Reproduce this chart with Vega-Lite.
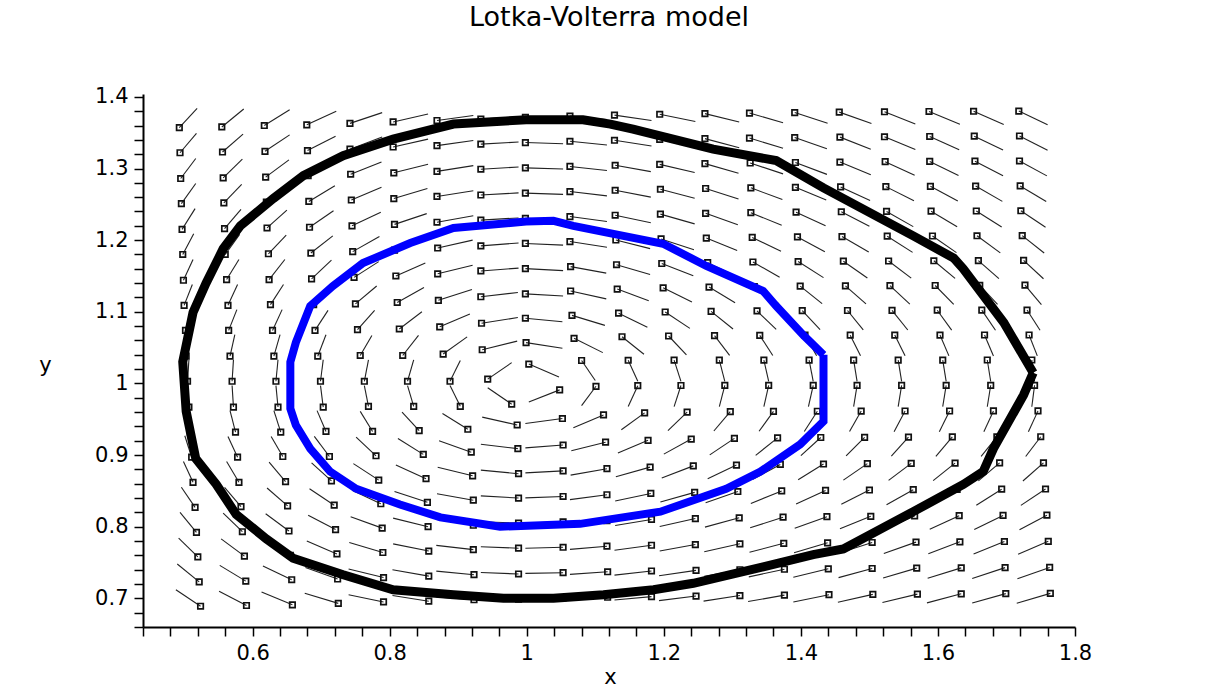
{
"$schema":"https://vega.github.io/schema/vega-lite/v6.json",
"autosize":{"type":"none"},
"width":932,"height":533,
"padding":{"left":143,"top":94,"right":135,"bottom":63},
"background":"white",
"view":{"stroke":null},
"title":{"text":"Lotka-Volterra model","font":"DejaVu Sans","fontSize":27,"fontWeight":"normal","color":"black","anchor":"middle","offset":54},
"config":{"axis":{"domainColor":"black","domainWidth":2,"tickColor":"black","tickWidth":1.5,"tickSize":9,"labelFont":"DejaVu Sans","labelFontSize":21,"labelColor":"black","labelPadding":6,"grid":false,"labelOverlap":false,"labelFlush":false,"titleFont":"DejaVu Sans","titleFontSize":21,"titleFontWeight":"normal","titleColor":"black"}},
"datasets":{
"field":[
{"x0":0.488,"y0":0.712,"x1":0.524,"y1":0.689},{"x0":0.490,"y0":0.748,"x1":0.522,"y1":0.723},{"x0":0.492,"y0":0.784,"x1":0.520,"y1":0.758},{"x0":0.494,"y0":0.820,"x1":0.518,"y1":0.792},{"x0":0.496,"y0":0.855,"x1":0.516,"y1":0.827},{"x0":0.499,"y0":0.891,"x1":0.513,"y1":0.862},{"x0":0.501,"y0":0.927,"x1":0.511,"y1":0.897},{"x0":0.503,"y0":0.962,"x1":0.509,"y1":0.932},{"x0":0.505,"y0":0.997,"x1":0.507,"y1":0.967},{"x0":0.507,"y0":1.033,"x1":0.505,"y1":1.003},{"x0":0.509,"y0":1.068,"x1":0.503,"y1":1.038},{"x0":0.510,"y0":1.103,"x1":0.502,"y1":1.074},{"x0":0.512,"y0":1.138,"x1":0.500,"y1":1.109},{"x0":0.513,"y0":1.173,"x1":0.499,"y1":1.144},{"x0":0.514,"y0":1.209,"x1":0.498,"y1":1.180},{"x0":0.516,"y0":1.244,"x1":0.497,"y1":1.215},{"x0":0.517,"y0":1.279,"x1":0.496,"y1":1.251},{"x0":0.517,"y0":1.314,"x1":0.495,"y1":1.286},{"x0":0.518,"y0":1.349,"x1":0.494,"y1":1.322},{"x0":0.519,"y0":1.384,"x1":0.493,"y1":1.357},
{"x0":0.551,"y0":0.710,"x1":0.591,"y1":0.690},{"x0":0.552,"y0":0.746,"x1":0.590,"y1":0.724},{"x0":0.554,"y0":0.783,"x1":0.588,"y1":0.759},{"x0":0.557,"y0":0.819,"x1":0.585,"y1":0.793},{"x0":0.559,"y0":0.855,"x1":0.583,"y1":0.828},{"x0":0.562,"y0":0.891,"x1":0.580,"y1":0.862},{"x0":0.564,"y0":0.926,"x1":0.578,"y1":0.897},{"x0":0.567,"y0":0.962,"x1":0.575,"y1":0.932},{"x0":0.570,"y0":0.997,"x1":0.572,"y1":0.967},{"x0":0.572,"y0":1.033,"x1":0.570,"y1":1.003},{"x0":0.574,"y0":1.068,"x1":0.567,"y1":1.038},{"x0":0.577,"y0":1.103,"x1":0.565,"y1":1.074},{"x0":0.578,"y0":1.138,"x1":0.564,"y1":1.109},{"x0":0.580,"y0":1.173,"x1":0.562,"y1":1.145},{"x0":0.581,"y0":1.208,"x1":0.560,"y1":1.180},{"x0":0.583,"y0":1.243,"x1":0.559,"y1":1.216},{"x0":0.584,"y0":1.278,"x1":0.558,"y1":1.252},{"x0":0.585,"y0":1.313,"x1":0.557,"y1":1.287},{"x0":0.586,"y0":1.348,"x1":0.556,"y1":1.323},{"x0":0.587,"y0":1.383,"x1":0.555,"y1":1.358},
{"x0":0.613,"y0":0.709,"x1":0.658,"y1":0.691},{"x0":0.615,"y0":0.745,"x1":0.657,"y1":0.726},{"x0":0.616,"y0":0.781,"x1":0.655,"y1":0.760},{"x0":0.619,"y0":0.818,"x1":0.653,"y1":0.794},{"x0":0.621,"y0":0.854,"x1":0.651,"y1":0.829},{"x0":0.624,"y0":0.890,"x1":0.648,"y1":0.863},{"x0":0.627,"y0":0.926,"x1":0.644,"y1":0.898},{"x0":0.631,"y0":0.962,"x1":0.641,"y1":0.932},{"x0":0.634,"y0":0.997,"x1":0.637,"y1":0.967},{"x0":0.637,"y0":1.033,"x1":0.634,"y1":1.003},{"x0":0.640,"y0":1.068,"x1":0.631,"y1":1.038},{"x0":0.643,"y0":1.103,"x1":0.629,"y1":1.074},{"x0":0.645,"y0":1.138,"x1":0.626,"y1":1.110},{"x0":0.647,"y0":1.173,"x1":0.624,"y1":1.145},{"x0":0.649,"y0":1.207,"x1":0.623,"y1":1.181},{"x0":0.650,"y0":1.242,"x1":0.621,"y1":1.217},{"x0":0.652,"y0":1.277,"x1":0.620,"y1":1.253},{"x0":0.653,"y0":1.312,"x1":0.619,"y1":1.288},{"x0":0.654,"y0":1.347,"x1":0.618,"y1":1.324},{"x0":0.654,"y0":1.382,"x1":0.617,"y1":1.360},
{"x0":0.676,"y0":0.707,"x1":0.725,"y1":0.693},{"x0":0.677,"y0":0.743,"x1":0.724,"y1":0.727},{"x0":0.679,"y0":0.780,"x1":0.723,"y1":0.762},{"x0":0.681,"y0":0.816,"x1":0.721,"y1":0.796},{"x0":0.683,"y0":0.853,"x1":0.719,"y1":0.830},{"x0":0.686,"y0":0.889,"x1":0.715,"y1":0.864},{"x0":0.690,"y0":0.926,"x1":0.712,"y1":0.898},{"x0":0.694,"y0":0.962,"x1":0.707,"y1":0.933},{"x0":0.699,"y0":0.997,"x1":0.703,"y1":0.967},{"x0":0.703,"y0":1.033,"x1":0.699,"y1":1.003},{"x0":0.707,"y0":1.068,"x1":0.695,"y1":1.038},{"x0":0.710,"y0":1.102,"x1":0.691,"y1":1.074},{"x0":0.713,"y0":1.137,"x1":0.689,"y1":1.110},{"x0":0.715,"y0":1.172,"x1":0.686,"y1":1.146},{"x0":0.717,"y0":1.206,"x1":0.685,"y1":1.182},{"x0":0.718,"y0":1.241,"x1":0.683,"y1":1.218},{"x0":0.720,"y0":1.276,"x1":0.682,"y1":1.254},{"x0":0.721,"y0":1.310,"x1":0.681,"y1":1.290},{"x0":0.721,"y0":1.345,"x1":0.680,"y1":1.325},{"x0":0.722,"y0":1.380,"x1":0.679,"y1":1.361},
{"x0":0.740,"y0":0.705,"x1":0.791,"y1":0.695},{"x0":0.740,"y0":0.741,"x1":0.791,"y1":0.729},{"x0":0.741,"y0":0.778,"x1":0.790,"y1":0.764},{"x0":0.743,"y0":0.814,"x1":0.789,"y1":0.798},{"x0":0.745,"y0":0.851,"x1":0.787,"y1":0.832},{"x0":0.747,"y0":0.888,"x1":0.784,"y1":0.865},{"x0":0.751,"y0":0.925,"x1":0.780,"y1":0.899},{"x0":0.757,"y0":0.961,"x1":0.775,"y1":0.933},{"x0":0.763,"y0":0.997,"x1":0.769,"y1":0.968},{"x0":0.769,"y0":1.033,"x1":0.763,"y1":1.003},{"x0":0.774,"y0":1.067,"x1":0.757,"y1":1.039},{"x0":0.778,"y0":1.102,"x1":0.753,"y1":1.075},{"x0":0.781,"y0":1.136,"x1":0.750,"y1":1.111},{"x0":0.784,"y0":1.170,"x1":0.748,"y1":1.148},{"x0":0.785,"y0":1.205,"x1":0.746,"y1":1.184},{"x0":0.787,"y0":1.239,"x1":0.745,"y1":1.220},{"x0":0.788,"y0":1.274,"x1":0.744,"y1":1.256},{"x0":0.788,"y0":1.309,"x1":0.743,"y1":1.292},{"x0":0.789,"y0":1.344,"x1":0.742,"y1":1.327},{"x0":0.789,"y0":1.378,"x1":0.742,"y1":1.363},
{"x0":0.804,"y0":0.704,"x1":0.857,"y1":0.696},{"x0":0.804,"y0":0.740,"x1":0.857,"y1":0.731},{"x0":0.805,"y0":0.776,"x1":0.857,"y1":0.766},{"x0":0.805,"y0":0.812,"x1":0.856,"y1":0.800},{"x0":0.807,"y0":0.849,"x1":0.855,"y1":0.834},{"x0":0.809,"y0":0.886,"x1":0.853,"y1":0.867},{"x0":0.812,"y0":0.923,"x1":0.849,"y1":0.901},{"x0":0.818,"y0":0.960,"x1":0.843,"y1":0.934},{"x0":0.826,"y0":0.997,"x1":0.835,"y1":0.968},{"x0":0.835,"y0":1.033,"x1":0.826,"y1":1.003},{"x0":0.842,"y0":1.067,"x1":0.819,"y1":1.039},{"x0":0.847,"y0":1.100,"x1":0.814,"y1":1.076},{"x0":0.850,"y0":1.134,"x1":0.811,"y1":1.113},{"x0":0.852,"y0":1.168,"x1":0.809,"y1":1.150},{"x0":0.854,"y0":1.202,"x1":0.807,"y1":1.186},{"x0":0.854,"y0":1.237,"x1":0.807,"y1":1.222},{"x0":0.855,"y0":1.272,"x1":0.806,"y1":1.258},{"x0":0.856,"y0":1.306,"x1":0.806,"y1":1.294},{"x0":0.856,"y0":1.341,"x1":0.805,"y1":1.330},{"x0":0.856,"y0":1.376,"x1":0.805,"y1":1.365},
{"x0":0.868,"y0":0.702,"x1":0.923,"y1":0.698},{"x0":0.868,"y0":0.738,"x1":0.923,"y1":0.733},{"x0":0.868,"y0":0.774,"x1":0.922,"y1":0.768},{"x0":0.869,"y0":0.810,"x1":0.922,"y1":0.802},{"x0":0.869,"y0":0.846,"x1":0.922,"y1":0.837},{"x0":0.870,"y0":0.883,"x1":0.921,"y1":0.871},{"x0":0.872,"y0":0.920,"x1":0.919,"y1":0.904},{"x0":0.877,"y0":0.958,"x1":0.914,"y1":0.936},{"x0":0.888,"y0":0.997,"x1":0.903,"y1":0.968},{"x0":0.903,"y0":1.032,"x1":0.888,"y1":1.003},{"x0":0.913,"y0":1.065,"x1":0.878,"y1":1.041},{"x0":0.917,"y0":1.097,"x1":0.873,"y1":1.079},{"x0":0.920,"y0":1.131,"x1":0.871,"y1":1.116},{"x0":0.921,"y0":1.165,"x1":0.870,"y1":1.153},{"x0":0.921,"y0":1.200,"x1":0.870,"y1":1.189},{"x0":0.922,"y0":1.234,"x1":0.869,"y1":1.225},{"x0":0.922,"y0":1.269,"x1":0.869,"y1":1.261},{"x0":0.922,"y0":1.304,"x1":0.869,"y1":1.296},{"x0":0.922,"y0":1.339,"x1":0.869,"y1":1.332},{"x0":0.922,"y0":1.374,"x1":0.869,"y1":1.367},
{"x0":0.933,"y0":0.701,"x1":0.988,"y1":0.699},{"x0":0.933,"y0":0.736,"x1":0.988,"y1":0.734},{"x0":0.933,"y0":0.772,"x1":0.988,"y1":0.770},{"x0":0.933,"y0":0.807,"x1":0.988,"y1":0.805},{"x0":0.933,"y0":0.843,"x1":0.988,"y1":0.840},{"x0":0.933,"y0":0.879,"x1":0.988,"y1":0.874},{"x0":0.933,"y0":0.915,"x1":0.987,"y1":0.909},{"x0":0.935,"y0":0.953,"x1":0.986,"y1":0.942},{"x0":0.943,"y0":0.994,"x1":0.978,"y1":0.971},{"x0":0.978,"y0":1.029,"x1":0.943,"y1":1.006},{"x0":0.986,"y0":1.059,"x1":0.935,"y1":1.047},{"x0":0.987,"y0":1.092,"x1":0.934,"y1":1.084},{"x0":0.987,"y0":1.127,"x1":0.933,"y1":1.121},{"x0":0.988,"y0":1.161,"x1":0.933,"y1":1.157},{"x0":0.988,"y0":1.196,"x1":0.933,"y1":1.192},{"x0":0.988,"y0":1.231,"x1":0.933,"y1":1.228},{"x0":0.988,"y0":1.266,"x1":0.933,"y1":1.263},{"x0":0.988,"y0":1.302,"x1":0.933,"y1":1.299},{"x0":0.988,"y0":1.337,"x1":0.933,"y1":1.334},{"x0":0.988,"y0":1.372,"x1":0.933,"y1":1.369},
{"x0":0.998,"y0":0.6995,"x1":1.053,"y1":0.7005},{"x0":0.998,"y0":0.7348,"x1":1.053,"y1":0.7358},{"x0":0.998,"y0":0.7699,"x1":1.053,"y1":0.7713},{"x0":0.998,"y0":0.8051,"x1":1.053,"y1":0.8067},{"x0":0.998,"y0":0.8402,"x1":1.053,"y1":0.8422},{"x0":0.998,"y0":0.8751,"x1":1.053,"y1":0.8779},{"x0":0.998,"y0":0.910,"x1":1.053,"y1":0.914},{"x0":0.998,"y0":0.944,"x1":1.052,"y1":0.951},{"x0":1.003,"y0":0.974,"x1":1.048,"y1":0.991},{"x0":1.047,"y0":1.009,"x1":1.003,"y1":1.027},{"x0":1.052,"y0":1.049,"x1":0.999,"y1":1.057},{"x0":1.052,"y0":1.086,"x1":0.998,"y1":1.091},{"x0":1.053,"y0":1.122,"x1":0.998,"y1":1.125},{"x0":1.053,"y0":1.1575,"x1":0.998,"y1":1.1603},{"x0":1.053,"y0":1.193,"x1":0.998,"y1":1.1954},{"x0":1.053,"y0":1.2285,"x1":0.998,"y1":1.2305},{"x0":1.053,"y0":1.2639,"x1":0.998,"y1":1.2657},{"x0":1.053,"y0":1.2993,"x1":0.998,"y1":1.3009},{"x0":1.053,"y0":1.3346,"x1":0.998,"y1":1.3362},{"x0":1.053,"y0":1.370,"x1":0.998,"y1":1.3714},
{"x0":1.063,"y0":0.6985,"x1":1.118,"y1":0.7015},{"x0":1.063,"y0":0.7335,"x1":1.118,"y1":0.7371},{"x0":1.063,"y0":0.7684,"x1":1.117,"y1":0.7728},{"x0":1.063,"y0":0.8032,"x1":1.117,"y1":0.8086},{"x0":1.063,"y0":0.8378,"x1":1.117,"y1":0.8446},{"x0":1.064,"y0":0.872,"x1":1.117,"y1":0.881},{"x0":1.065,"y0":0.906,"x1":1.115,"y1":0.918},{"x0":1.068,"y0":0.938,"x1":1.112,"y1":0.956},{"x0":1.080,"y0":0.969,"x1":1.101,"y1":0.996},{"x0":1.100,"y0":1.004,"x1":1.080,"y1":1.032},{"x0":1.111,"y0":1.043,"x1":1.069,"y1":1.063},{"x0":1.114,"y0":1.081,"x1":1.066,"y1":1.095},{"x0":1.116,"y0":1.118,"x1":1.064,"y1":1.129},{"x0":1.116,"y0":1.154,"x1":1.064,"y1":1.163},{"x0":1.117,"y0":1.190,"x1":1.063,"y1":1.198},{"x0":1.117,"y0":1.2261,"x1":1.063,"y1":1.2329},{"x0":1.117,"y0":1.2618,"x1":1.063,"y1":1.2678},{"x0":1.117,"y0":1.2973,"x1":1.063,"y1":1.3029},{"x0":1.117,"y0":1.3328,"x1":1.063,"y1":1.338},{"x0":1.117,"y0":1.3683,"x1":1.063,"y1":1.3731},
{"x0":1.128,"y0":0.6976,"x1":1.182,"y1":0.7024},{"x0":1.128,"y0":0.7324,"x1":1.182,"y1":0.7382},{"x0":1.128,"y0":0.7671,"x1":1.182,"y1":0.7741},{"x0":1.129,"y0":0.8017,"x1":1.182,"y1":0.8101},{"x0":1.129,"y0":0.836,"x1":1.181,"y1":0.8464},{"x0":1.130,"y0":0.8698,"x1":1.180,"y1":0.8832},{"x0":1.133,"y0":0.903,"x1":1.177,"y1":0.9206},{"x0":1.138,"y0":0.9353,"x1":1.172,"y1":0.9589},{"x0":1.148,"y0":0.9679,"x1":1.162,"y1":0.9969},{"x0":1.162,"y0":1.0031,"x1":1.148,"y1":1.0323},{"x0":1.171,"y0":1.0408,"x1":1.139,"y1":1.0652},{"x0":1.176,"y0":1.0785,"x1":1.134,"y1":1.0981},{"x0":1.178,"y0":1.1155,"x1":1.132,"y1":1.1317},{"x0":1.180,"y0":1.1521,"x1":1.131,"y1":1.1657},{"x0":1.180,"y0":1.1882,"x1":1.130,"y1":1.2002},{"x0":1.181,"y0":1.2242,"x1":1.129,"y1":1.2348},{"x0":1.181,"y0":1.260,"x1":1.129,"y1":1.2696},{"x0":1.181,"y0":1.2957,"x1":1.129,"y1":1.3045},{"x0":1.182,"y0":1.3314,"x1":1.128,"y1":1.3394},{"x0":1.182,"y0":1.3669,"x1":1.128,"y1":1.3745},
{"x0":1.193,"y0":0.6968,"x1":1.247,"y1":0.7032},{"x0":1.193,"y0":0.7315,"x1":1.247,"y1":0.7391},{"x0":1.194,"y0":0.7661,"x1":1.246,"y1":0.7751},{"x0":1.194,"y0":0.8004,"x1":1.246,"y1":0.8114},{"x0":1.195,"y0":0.8345,"x1":1.245,"y1":0.8479},{"x0":1.197,"y0":0.8681,"x1":1.243,"y1":0.8849},{"x0":1.200,"y0":0.9013,"x1":1.240,"y1":0.9223},{"x0":1.206,"y0":0.9342,"x1":1.234,"y1":0.960},{"x0":1.215,"y0":0.9677,"x1":1.225,"y1":0.9971},{"x0":1.225,"y0":1.0029,"x1":1.215,"y1":1.0325},{"x0":1.233,"y0":1.0398,"x1":1.207,"y1":1.0662},{"x0":1.238,"y0":1.0769,"x1":1.202,"y1":1.0997},{"x0":1.241,"y0":1.1138,"x1":1.199,"y1":1.1334},{"x0":1.243,"y0":1.1504,"x1":1.197,"y1":1.1674},{"x0":1.244,"y0":1.1867,"x1":1.196,"y1":1.2017},{"x0":1.245,"y0":1.2227,"x1":1.195,"y1":1.2363},{"x0":1.245,"y0":1.2586,"x1":1.195,"y1":1.271},{"x0":1.245,"y0":1.2944,"x1":1.194,"y1":1.3058},{"x0":1.246,"y0":1.3301,"x1":1.194,"y1":1.3407},{"x0":1.246,"y0":1.3657,"x1":1.194,"y1":1.3757},
{"x0":1.258,"y0":0.6961,"x1":1.311,"y1":0.7039},{"x0":1.259,"y0":0.7307,"x1":1.311,"y1":0.7399},{"x0":1.259,"y0":0.7651,"x1":1.311,"y1":0.7761},{"x0":1.260,"y0":0.7994,"x1":1.310,"y1":0.8124},{"x0":1.261,"y0":0.8333,"x1":1.308,"y1":0.8491},{"x0":1.264,"y0":0.867,"x1":1.306,"y1":0.886},{"x0":1.267,"y0":0.9003,"x1":1.303,"y1":0.9233},{"x0":1.273,"y0":0.9336,"x1":1.297,"y1":0.9606},{"x0":1.281,"y0":0.9676,"x1":1.289,"y1":0.9972},{"x0":1.289,"y0":1.0029,"x1":1.281,"y1":1.0325},{"x0":1.296,"y0":1.0392,"x1":1.274,"y1":1.0668},{"x0":1.301,"y0":1.076,"x1":1.269,"y1":1.1006},{"x0":1.304,"y0":1.1127,"x1":1.266,"y1":1.1345},{"x0":1.306,"y0":1.1492,"x1":1.264,"y1":1.1686},{"x0":1.307,"y0":1.1855,"x1":1.262,"y1":1.2029},{"x0":1.308,"y0":1.2216,"x1":1.261,"y1":1.2374},{"x0":1.309,"y0":1.2575,"x1":1.261,"y1":1.2721},{"x0":1.309,"y0":1.2934,"x1":1.260,"y1":1.3068},{"x0":1.310,"y0":1.3291,"x1":1.260,"y1":1.3417},{"x0":1.310,"y0":1.3648,"x1":1.260,"y1":1.3766},
{"x0":1.323,"y0":0.6955,"x1":1.376,"y1":0.7045},{"x0":1.324,"y0":0.730,"x1":1.376,"y1":0.7406},{"x0":1.325,"y0":0.7644,"x1":1.375,"y1":0.7768},{"x0":1.326,"y0":0.7985,"x1":1.374,"y1":0.8133},{"x0":1.327,"y0":0.8324,"x1":1.372,"y1":0.850},{"x0":1.330,"y0":0.8661,"x1":1.370,"y1":0.8869},{"x0":1.334,"y0":0.8996,"x1":1.366,"y1":0.924},{"x0":1.339,"y0":0.9332,"x1":1.360,"y1":0.961},{"x0":1.346,"y0":0.9675,"x1":1.353,"y1":0.9973},{"x0":1.353,"y0":1.0028,"x1":1.346,"y1":1.0326},{"x0":1.359,"y0":1.0389,"x1":1.340,"y1":1.0671},{"x0":1.364,"y0":1.0754,"x1":1.336,"y1":1.1012},{"x0":1.367,"y0":1.1119,"x1":1.332,"y1":1.1353},{"x0":1.369,"y0":1.1483,"x1":1.330,"y1":1.1695},{"x0":1.371,"y0":1.1846,"x1":1.329,"y1":1.2038},{"x0":1.372,"y0":1.2207,"x1":1.327,"y1":1.2383},{"x0":1.373,"y0":1.2566,"x1":1.327,"y1":1.273},{"x0":1.374,"y0":1.2925,"x1":1.326,"y1":1.3077},{"x0":1.374,"y0":1.3283,"x1":1.325,"y1":1.3425},{"x0":1.374,"y0":1.364,"x1":1.325,"y1":1.3774},
{"x0":1.389,"y0":0.6949,"x1":1.441,"y1":0.7051},{"x0":1.389,"y0":0.7294,"x1":1.440,"y1":0.7412},{"x0":1.390,"y0":0.7637,"x1":1.439,"y1":0.7775},{"x0":1.391,"y0":0.7978,"x1":1.438,"y1":0.814},{"x0":1.393,"y0":0.8317,"x1":1.436,"y1":0.8507},{"x0":1.396,"y0":0.8655,"x1":1.433,"y1":0.8875},{"x0":1.400,"y0":0.8991,"x1":1.429,"y1":0.9245},{"x0":1.405,"y0":0.933,"x1":1.424,"y1":0.9612},{"x0":1.411,"y0":0.9675,"x1":1.418,"y1":0.9973},{"x0":1.418,"y0":1.0028,"x1":1.412,"y1":1.0326},{"x0":1.423,"y0":1.0387,"x1":1.406,"y1":1.0673},{"x0":1.428,"y0":1.075,"x1":1.402,"y1":1.1016},{"x0":1.431,"y0":1.1114,"x1":1.399,"y1":1.1358},{"x0":1.433,"y0":1.1477,"x1":1.396,"y1":1.1701},{"x0":1.435,"y0":1.1839,"x1":1.395,"y1":1.2045},{"x0":1.436,"y0":1.220,"x1":1.393,"y1":1.239},{"x0":1.437,"y0":1.2559,"x1":1.392,"y1":1.2737},{"x0":1.438,"y0":1.2918,"x1":1.392,"y1":1.3084},{"x0":1.438,"y0":1.3276,"x1":1.391,"y1":1.3432},{"x0":1.439,"y0":1.3633,"x1":1.391,"y1":1.3781},
{"x0":1.454,"y0":0.6945,"x1":1.505,"y1":0.7055},{"x0":1.455,"y0":0.7289,"x1":1.504,"y1":0.7417},{"x0":1.456,"y0":0.7632,"x1":1.504,"y1":0.778},{"x0":1.457,"y0":0.7973,"x1":1.502,"y1":0.8145},{"x0":1.459,"y0":0.8312,"x1":1.500,"y1":0.8512},{"x0":1.462,"y0":0.865,"x1":1.497,"y1":0.888},{"x0":1.466,"y0":0.8988,"x1":1.493,"y1":0.9248},{"x0":1.471,"y0":0.9328,"x1":1.488,"y1":0.9614},{"x0":1.477,"y0":0.9675,"x1":1.482,"y1":0.9973},{"x0":1.482,"y0":1.0028,"x1":1.477,"y1":1.0326},{"x0":1.487,"y0":1.0386,"x1":1.472,"y1":1.0674},{"x0":1.491,"y0":1.0748,"x1":1.468,"y1":1.1018},{"x0":1.495,"y0":1.111,"x1":1.465,"y1":1.1362},{"x0":1.497,"y0":1.1472,"x1":1.462,"y1":1.1706},{"x0":1.499,"y0":1.1834,"x1":1.460,"y1":1.205},{"x0":1.500,"y0":1.2194,"x1":1.459,"y1":1.2396},{"x0":1.501,"y0":1.2553,"x1":1.458,"y1":1.2743},{"x0":1.502,"y0":1.2912,"x1":1.457,"y1":1.309},{"x0":1.502,"y0":1.327,"x1":1.457,"y1":1.3438},{"x0":1.503,"y0":1.3627,"x1":1.456,"y1":1.3787},
{"x0":1.519,"y0":0.6941,"x1":1.570,"y1":0.7059},{"x0":1.520,"y0":0.7284,"x1":1.569,"y1":0.7422},{"x0":1.521,"y0":0.7627,"x1":1.568,"y1":0.7785},{"x0":1.523,"y0":0.7968,"x1":1.566,"y1":0.815},{"x0":1.525,"y0":0.8307,"x1":1.564,"y1":0.8517},{"x0":1.528,"y0":0.8646,"x1":1.561,"y1":0.8884},{"x0":1.532,"y0":0.8985,"x1":1.557,"y1":0.9251},{"x0":1.536,"y0":0.9327,"x1":1.552,"y1":0.9615},{"x0":1.542,"y0":0.9675,"x1":1.547,"y1":0.9973},{"x0":1.547,"y0":1.0028,"x1":1.542,"y1":1.0326},{"x0":1.552,"y0":1.0385,"x1":1.537,"y1":1.0675},{"x0":1.556,"y0":1.0746,"x1":1.533,"y1":1.102},{"x0":1.559,"y0":1.1107,"x1":1.530,"y1":1.1365},{"x0":1.561,"y0":1.1469,"x1":1.528,"y1":1.1709},{"x0":1.563,"y0":1.1829,"x1":1.526,"y1":1.2055},{"x0":1.564,"y0":1.2189,"x1":1.525,"y1":1.2401},{"x0":1.565,"y0":1.2549,"x1":1.524,"y1":1.2747},{"x0":1.566,"y0":1.2907,"x1":1.523,"y1":1.3095},{"x0":1.567,"y0":1.3265,"x1":1.522,"y1":1.3443},{"x0":1.567,"y0":1.3622,"x1":1.522,"y1":1.3792},
{"x0":1.584,"y0":0.6937,"x1":1.634,"y1":0.7063},{"x0":1.585,"y0":0.7281,"x1":1.634,"y1":0.7425},{"x0":1.586,"y0":0.7623,"x1":1.632,"y1":0.7789},{"x0":1.588,"y0":0.7964,"x1":1.631,"y1":0.8154},{"x0":1.590,"y0":0.8303,"x1":1.628,"y1":0.8521},{"x0":1.593,"y0":0.8643,"x1":1.625,"y1":0.8887},{"x0":1.597,"y0":0.8983,"x1":1.621,"y1":0.9253},{"x0":1.602,"y0":0.9327,"x1":1.617,"y1":0.9615},{"x0":1.607,"y0":0.9675,"x1":1.612,"y1":0.9973},{"x0":1.612,"y0":1.0028,"x1":1.607,"y1":1.0326},{"x0":1.616,"y0":1.0385,"x1":1.603,"y1":1.0675},{"x0":1.620,"y0":1.0744,"x1":1.599,"y1":1.1022},{"x0":1.623,"y0":1.1105,"x1":1.596,"y1":1.1367},{"x0":1.625,"y0":1.1466,"x1":1.594,"y1":1.1712},{"x0":1.627,"y0":1.1826,"x1":1.592,"y1":1.2058},{"x0":1.628,"y0":1.2186,"x1":1.590,"y1":1.2404},{"x0":1.629,"y0":1.2545,"x1":1.589,"y1":1.2751},{"x0":1.630,"y0":1.2903,"x1":1.588,"y1":1.3099},{"x0":1.631,"y0":1.3261,"x1":1.588,"y1":1.3447},{"x0":1.632,"y0":1.3618,"x1":1.587,"y1":1.3796},
{"x0":1.650,"y0":0.6934,"x1":1.699,"y1":0.7066},{"x0":1.650,"y0":0.7277,"x1":1.698,"y1":0.7429},{"x0":1.652,"y0":0.7619,"x1":1.697,"y1":0.7793},{"x0":1.653,"y0":0.796,"x1":1.695,"y1":0.8158},{"x0":1.656,"y0":0.830,"x1":1.693,"y1":0.8524},{"x0":1.659,"y0":0.864,"x1":1.690,"y1":0.889},{"x0":1.663,"y0":0.8982,"x1":1.686,"y1":0.9254},{"x0":1.667,"y0":0.9326,"x1":1.681,"y1":0.9616},{"x0":1.672,"y0":0.9674,"x1":1.677,"y1":0.9974},{"x0":1.677,"y0":1.0027,"x1":1.672,"y1":1.0327},{"x0":1.681,"y0":1.0384,"x1":1.668,"y1":1.0676},{"x0":1.684,"y0":1.0743,"x1":1.664,"y1":1.1023},{"x0":1.687,"y0":1.1103,"x1":1.661,"y1":1.1369},{"x0":1.689,"y0":1.1463,"x1":1.659,"y1":1.1715},{"x0":1.691,"y0":1.1823,"x1":1.657,"y1":1.2061},{"x0":1.693,"y0":1.2183,"x1":1.656,"y1":1.2407},{"x0":1.694,"y0":1.2541,"x1":1.655,"y1":1.2755},{"x0":1.695,"y0":1.290,"x1":1.654,"y1":1.3102},{"x0":1.695,"y0":1.3257,"x1":1.653,"y1":1.3451},{"x0":1.696,"y0":1.3615,"x1":1.652,"y1":1.3799},
{"x0":1.715,"y0":0.6931,"x1":1.764,"y1":0.7069},{"x0":1.716,"y0":0.7274,"x1":1.763,"y1":0.7432},{"x0":1.717,"y0":0.7616,"x1":1.761,"y1":0.7796},{"x0":1.719,"y0":0.7957,"x1":1.759,"y1":0.8161},{"x0":1.721,"y0":0.8298,"x1":1.757,"y1":0.8526},{"x0":1.724,"y0":0.8638,"x1":1.754,"y1":0.8892},{"x0":1.728,"y0":0.898,"x1":1.750,"y1":0.9256},{"x0":1.732,"y0":0.9325,"x1":1.746,"y1":0.9617},{"x0":1.737,"y0":0.9674,"x1":1.741,"y1":0.9974},{"x0":1.741,"y0":1.0027,"x1":1.737,"y1":1.0327},{"x0":1.745,"y0":1.0384,"x1":1.733,"y1":1.0676},{"x0":1.749,"y0":1.0742,"x1":1.730,"y1":1.1024},{"x0":1.751,"y0":1.1101,"x1":1.727,"y1":1.1371},{"x0":1.754,"y0":1.1461,"x1":1.725,"y1":1.1717},{"x0":1.755,"y0":1.1821,"x1":1.723,"y1":1.2063},{"x0":1.757,"y0":1.218,"x1":1.721,"y1":1.241},{"x0":1.758,"y0":1.2539,"x1":1.720,"y1":1.2757},{"x0":1.759,"y0":1.2897,"x1":1.719,"y1":1.3105},{"x0":1.760,"y0":1.3254,"x1":1.719,"y1":1.3454},{"x0":1.760,"y0":1.3612,"x1":1.718,"y1":1.3802}
],
"black":[
{"i":1,"x":1.739,"y":1.015},{"i":2,"x":1.725,"y":0.984},{"i":3,"x":1.681,"y":0.909},{"i":4,"x":1.666,"y":0.877},{"i":5,"x":1.637,"y":0.859},{"i":6,"x":1.564,"y":0.821},{"i":7,"x":1.462,"y":0.769},{"i":8,"x":1.418,"y":0.761},{"i":9,"x":1.345,"y":0.744},{"i":10,"x":1.243,"y":0.721},{"i":11,"x":1.185,"y":0.712},{"i":12,"x":1.112,"y":0.705},{"i":13,"x":1.039,"y":0.700},{"i":14,"x":0.966,"y":0.700},{"i":15,"x":0.893,"y":0.705},{"i":16,"x":0.805,"y":0.712},{"i":17,"x":0.732,"y":0.733},{"i":18,"x":0.659,"y":0.756},{"i":19,"x":0.620,"y":0.783},{"i":20,"x":0.576,"y":0.817},{"i":21,"x":0.547,"y":0.859},{"i":22,"x":0.517,"y":0.895},{"i":23,"x":0.503,"y":0.961},{"i":24,"x":0.498,"y":1.030},{"i":25,"x":0.513,"y":1.099},{"i":26,"x":0.532,"y":1.140},{"i":27,"x":0.557,"y":1.188},{"i":28,"x":0.582,"y":1.220},{"i":29,"x":0.630,"y":1.258},{"i":30,"x":0.674,"y":1.290},{"i":31,"x":0.732,"y":1.318},{"i":32,"x":0.805,"y":1.341},{"i":33,"x":0.893,"y":1.362},{"i":34,"x":0.999,"y":1.368},{"i":35,"x":1.082,"y":1.368},{"i":36,"x":1.122,"y":1.362},{"i":37,"x":1.155,"y":1.355},{"i":38,"x":1.272,"y":1.327},{"i":39,"x":1.364,"y":1.311},{"i":40,"x":1.433,"y":1.273},{"i":41,"x":1.564,"y":1.206},{"i":42,"x":1.623,"y":1.175},{"i":43,"x":1.637,"y":1.160},{"i":44,"x":1.696,"y":1.085},{"i":45,"x":1.739,"y":1.015}
],
"blue":[
{"i":1,"x":1.433,"y":1.040},{"i":2,"x":1.433,"y":0.947},{"i":3,"x":1.399,"y":0.915},{"i":4,"x":1.341,"y":0.877},{"i":5,"x":1.291,"y":0.853},{"i":6,"x":1.195,"y":0.821},{"i":7,"x":1.078,"y":0.804},{"i":8,"x":0.961,"y":0.800},{"i":9,"x":0.874,"y":0.813},{"i":10,"x":0.815,"y":0.831},{"i":11,"x":0.751,"y":0.853},{"i":12,"x":0.713,"y":0.877},{"i":13,"x":0.684,"y":0.909},{"i":14,"x":0.663,"y":0.942},{"i":15,"x":0.655,"y":0.965},{"i":16,"x":0.655,"y":1.030},{"i":17,"x":0.663,"y":1.057},{"i":18,"x":0.684,"y":1.108},{"i":19,"x":0.717,"y":1.136},{"i":20,"x":0.761,"y":1.168},{"i":21,"x":0.830,"y":1.196},{"i":22,"x":0.893,"y":1.217},{"i":23,"x":0.999,"y":1.226},{"i":24,"x":1.039,"y":1.227},{"i":25,"x":1.068,"y":1.220},{"i":26,"x":1.199,"y":1.195},{"i":27,"x":1.262,"y":1.164},{"i":28,"x":1.345,"y":1.129},{"i":29,"x":1.364,"y":1.108},{"i":30,"x":1.404,"y":1.067},{"i":31,"x":1.433,"y":1.040}
]
},
"encoding":{
"x":{"type":"quantitative","scale":{"domain":[0.44,1.8],"nice":false,"zero":false},
"axis":{"title":"x","values":[0.44,0.48,0.52,0.56,0.6,0.64,0.68,0.72,0.76,0.8,0.84,0.88,0.92,0.96,1,1.04,1.08,1.12,1.16,1.2,1.24,1.28,1.32,1.36,1.4,1.44,1.48,1.52,1.56,1.6,1.64,1.68,1.72,1.76,1.8],"format":"~g","labelExpr":"indexof(['0.6','0.8','1','1.2','1.4','1.6','1.8'], datum.label) >= 0 ? datum.label : ''","titleX":467,"titleY":50,"titleAlign":"center","titleBaseline":"middle"}},
"y":{"type":"quantitative","scale":{"domain":[0.66,1.404],"nice":false,"zero":false},
"axis":{"title":"y","values":[0.66,0.68,0.7,0.72,0.74,0.76,0.78,0.8,0.82,0.84,0.86,0.88,0.9,0.92,0.94,0.96,0.98,1,1.02,1.04,1.06,1.08,1.1,1.12,1.14,1.16,1.18,1.2,1.22,1.24,1.26,1.28,1.3,1.32,1.34,1.36,1.38,1.4],"format":"~g","labelExpr":"indexof(['0.7','0.8','0.9','1','1.1','1.2','1.3','1.4'], datum.label) >= 0 ? datum.label : ''","titleAngle":0,"titleX":-98,"titleY":271,"titleAlign":"center","titleBaseline":"middle"}}
},
"layer":[
{"data":{"name":"field"},"mark":{"type":"rule","color":"#222222","strokeWidth":1.1},
"encoding":{"x":{"field":"x0"},"y":{"field":"y0"},"x2":{"field":"x1"},"y2":{"field":"y1"}}},
{"data":{"name":"field"},"mark":{"type":"point","shape":"square","size":30,"filled":false,"stroke":"#111111","strokeWidth":1.7,"opacity":1},
"encoding":{"x":{"field":"x1"},"y":{"field":"y1"}}},
{"data":{"name":"black"},"mark":{"type":"line","color":"black","strokeWidth":9,"strokeJoin":"miter"},
"encoding":{"x":{"field":"x"},"y":{"field":"y"},"order":{"field":"i","type":"quantitative"}}},
{"data":{"name":"blue"},"mark":{"type":"line","color":"#0000ff","strokeWidth":8,"strokeJoin":"miter"},
"encoding":{"x":{"field":"x"},"y":{"field":"y"},"order":{"field":"i","type":"quantitative"}}}
]
}
